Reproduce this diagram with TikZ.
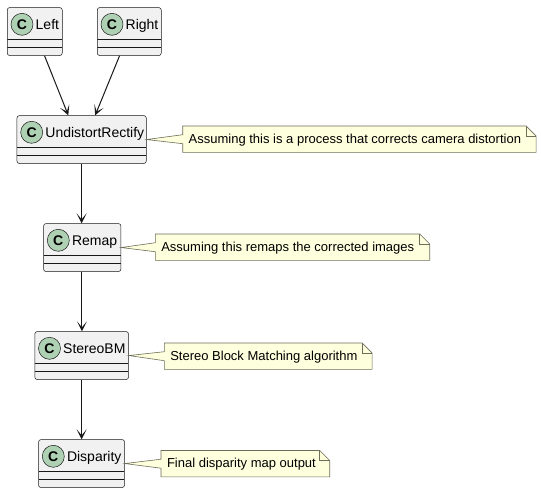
\documentclass[tikz,border=0pt]{standalone}
\usepackage{fontspec}
\setmainfont{Liberation Sans}
\usetikzlibrary{arrows.meta,calc}
\definecolor{clsfill}{HTML}{F1F1F1}
\definecolor{clsline}{HTML}{181818}
\definecolor{spotfill}{HTML}{ADD1B2}
\definecolor{notefill}{HTML}{FEFFDD}
\definecolor{noteline}{HTML}{6E6E5A}
\tikzset{
  cls/.style={draw=clsline, fill=clsfill, line width=0.5pt, rounded corners=2.5pt,
    anchor=north west, minimum height=48pt, inner sep=0pt,
    path picture={
      \draw[clsline, line width=0.5pt]
        ([yshift=-32pt]path picture bounding box.north west) -- ([yshift=-32pt]path picture bounding box.north east)
        ([yshift=-40pt]path picture bounding box.north west) -- ([yshift=-40pt]path picture bounding box.north east);
    }},
  spot/.style={circle, draw=clsline, fill=spotfill, line width=0.5pt, minimum size=22pt,
    inner sep=0pt, font=\bfseries\fontsize{14}{14}\selectfont},
  clsname/.style={anchor=base west, inner sep=0pt, font=\fontsize{14}{16}\selectfont},
  notebox/.style={draw=none, fill=none, anchor=north west, minimum height=26pt, inner sep=0pt},
  noteshape/.style={draw=noteline, fill=notefill, line width=0.6pt, line join=miter},
  notetext/.style={anchor=base west, inner sep=0pt, font=\fontsize{13}{15}\selectfont},
  arr/.style={draw=clsline, line width=1pt, -{Stealth[length=10pt,width=10pt,inset=6pt]}}
}
\newcommand\umlclass[5]{%
  \node[cls, minimum width=#4pt] (#1) at (#2,#3) {};
  \node[spot] (#1-spot) at ([xshift=15pt,yshift=-17pt]#1.north west) {C};
  \node[clsname] (#1-name) at ([xshift=28.5pt,yshift=-22pt]#1.north west) {#5};
}
\newcommand\umlnote[6]{%
  \node[notebox, minimum width=#4pt] (#1) at (#2,#3) {};
  \filldraw[noteshape] (#1.north west) -- ([xshift=-10pt]#1.north east) -- ([yshift=-10pt]#1.north east)
     -- (#1.south east) -- (#1.south west) -- ([yshift=-4.5pt]#1.west) -- (#5.east)
     -- ([yshift=4.5pt]#1.west) -- cycle;
  \draw[noteshape, fill=none] ([xshift=-10pt]#1.north east) -- ([xshift=-10pt,yshift=-10pt]#1.north east)
     -- ([yshift=-10pt]#1.north east);
  \node[notetext] (#1-text) at ([xshift=5.8pt,yshift=-17pt]#1.north west) {#6};
}
\begin{document}
\begin{tikzpicture}[x=1pt,y=-1pt]
\useasboundingbox (0,0) rectangle (541,493);
\fill[white] (0,0) rectangle (541,493);

\umlclass{L}{7}{7.3}{55}{Left}
\umlclass{R}{97}{7.3}{64}{Right}
\umlclass{U}{16.7}{115.3}{129.3}{UndistortRectify}
\umlclass{M}{43.3}{223.3}{77.4}{Remap}
\umlclass{S}{34.5}{331.3}{93.8}{StereoBM}
\umlclass{D}{38.3}{439.3}{86}{Disparity}

\draw[arr] ([xshift=9.8pt]L.south) -- ([xshift=-13.3pt]U.north);
\draw[arr] ([xshift=-9.7pt]R.south) -- ([xshift=13.6pt]U.north);
\draw[arr] (U.south) -- (U.south |- M.north);
\draw[arr] ([xshift=-0.3pt]M.south) -- ([xshift=-0.3pt]M.south |- S.north);
\draw[arr] (S.south) -- (S.south |- D.north);

\umlnote{N1}{182.7}{126}{353}{U}{Assuming this is a process that corrects camera distortion}
\umlnote{N2}{155.3}{234}{274}{M}{Assuming this remaps the corrected images}
\umlnote{N3}{164.3}{343}{207.4}{S}{Stereo Block Matching algorithm}
\umlnote{N4}{161}{450.5}{168.3}{D}{Final disparity map output}
\end{tikzpicture}
\end{document}
